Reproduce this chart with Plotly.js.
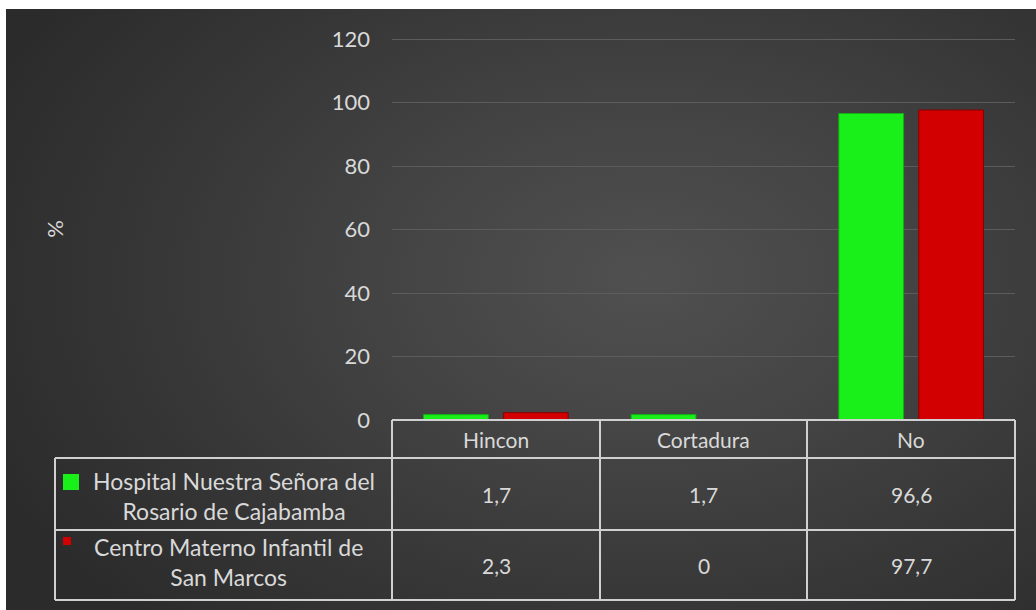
<!DOCTYPE html>
<html>
<head>
<meta charset="utf-8">
<script src="https://cdn.plot.ly/plotly-3.0.1.min.js"></script>
<style>
html,body{margin:0;padding:0;background:#ffffff;}
#bg{position:absolute;left:6px;top:9px;width:1030px;height:601px;
background:radial-gradient(ellipse 70% 80% at 62% 45%, #505050 0%, #444444 35%, #363636 70%, #2b2b2b 100%);}
#chart{position:absolute;left:0;top:0;width:1036px;height:610px;}
</style>
</head>
<body>
<div id="bg"></div>
<div id="chart"></div>
<script>
const categories = ["Hincon", "Cortadura", "No"];
const seriesNames = ["Hospital Nuestra Señora del<br>Rosario de Cajabamba", "Centro Materno Infantil de<br>San Marcos"];
const hospitalValues = [1.7, 1.7, 96.6];
const centroValues = [2.3, 0, 97.7];
const seriesColors = ["#19f019", "#d20000"];
const yTicks = [0, 20, 40, 60, 80, 100, 120];

const W = 1036, H = 610;
const L = 392, R = 1015, T = 38, B = 420;
const px = x => (x - L) / (R - L);
const py = y => (B - y) / (B - T);
const txtColor = "#d9d9d9";
const lineColor = "#d0d0d0";
const font = "Lato, 'Open Sans', sans-serif";

function fmt(v){ return String(v).replace('.', ','); }

const traces = [
  {type:"bar", x:categories, y:hospitalValues, name:seriesNames[0],
   marker:{color:seriesColors[0], line:{color:"#12b012", width:1}}, hoverinfo:"skip"},
  {type:"bar", x:categories, y:centroValues, name:seriesNames[1],
   marker:{color:seriesColors[1], line:{color:"#8a0000", width:1}}, hoverinfo:"skip"}
];

// table geometry (pixels)
const rowY = [420, 458, 530, 600];
const colX = [55, 392, 600, 807, 1015];
const shapes = [];
shapes.push({type:"line", xref:"paper", yref:"paper", x0:px(392), x1:px(1015), y0:py(420), y1:py(420), line:{color:lineColor, width:2}});
for (let i = 1; i < rowY.length; i++) {
  shapes.push({type:"line", xref:"paper", yref:"paper", x0:px(55), x1:px(1015), y0:py(rowY[i]), y1:py(rowY[i]), line:{color:lineColor, width:2}});
}
shapes.push({type:"line", xref:"paper", yref:"paper", x0:px(55), x1:px(55), y0:py(458), y1:py(600), line:{color:lineColor, width:2}});
for (let j = 1; j < colX.length; j++) {
  shapes.push({type:"line", xref:"paper", yref:"paper", x0:px(colX[j]), x1:px(colX[j]), y0:py(420), y1:py(600), line:{color:lineColor, width:2}});
}

const annotations = [];
const fnt = {family:font, size:21, color:txtColor};
categories.forEach((c, i) => {
  const cx = px((colX[i+1]+colX[i+2])/2);
  annotations.push({xref:"paper", yref:"paper", x:cx, y:py(439), text:c, showarrow:false, font:fnt, xanchor:"center", yanchor:"middle"});
  annotations.push({xref:"paper", yref:"paper", x:cx, y:py(494), text:fmt(hospitalValues[i]), showarrow:false, font:fnt, xanchor:"center", yanchor:"middle"});
  annotations.push({xref:"paper", yref:"paper", x:cx, y:py(565), text:fmt(centroValues[i]), showarrow:false, font:fnt, xanchor:"center", yanchor:"middle"});
});
const nameFont = {family:font, size:23, color:txtColor};
annotations.push({xref:"paper", yref:"paper", x:px(234), y:py(496), text:seriesNames[0], showarrow:false, font:nameFont, xanchor:"center", yanchor:"middle", align:"center"});
annotations.push({xref:"paper", yref:"paper", x:px(228), y:py(562), text:seriesNames[1], showarrow:false, font:nameFont, xanchor:"center", yanchor:"middle", align:"center"});
// legend keys
shapes.push({type:"rect", xref:"paper", yref:"paper", x0:px(63), x1:px(79), y0:py(490), y1:py(474), fillcolor:seriesColors[0], line:{width:0}});
shapes.push({type:"rect", xref:"paper", yref:"paper", x0:px(63), x1:px(71), y0:py(545), y1:py(537), fillcolor:seriesColors[1], line:{width:0}});

const layout = {
  width:W, height:H,
  margin:{l:L, r:W-R, t:T, b:H-B, pad:0},
  paper_bgcolor:"rgba(0,0,0,0)",
  plot_bgcolor:"rgba(0,0,0,0)",
  showlegend:false,
  barmode:"group",
  bargap:0.23,
  bargroupgap:0.19,
  xaxis:{showticklabels:false, showgrid:false, zeroline:false, showline:false, ticks:""},
  yaxis:{range:[0,120.4], tickvals:yTicks, ticktext:yTicks.map(String), showgrid:true, gridcolor:"#5c5c5c", gridwidth:1,
         zeroline:false, showline:false, ticks:"", ticklabelstandoff:21,
         tickfont:{family:font, size:22, color:txtColor},
         title:{text:"%", font:{family:font, size:22, color:txtColor}, standoff:262}},
  shapes:shapes,
  annotations:annotations
};
Plotly.newPlot("chart", traces, layout, {staticPlot:true, displayModeBar:false});
</script>
</body>
</html>
